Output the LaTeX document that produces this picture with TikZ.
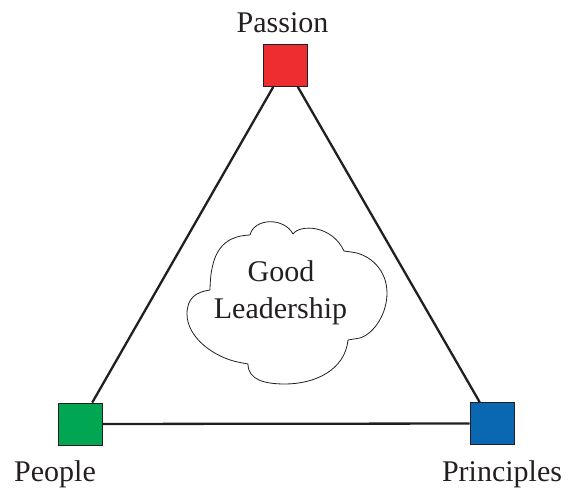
\documentclass[tikz,border=0pt]{standalone}
\usepackage{fontspec}
\setmainfont{Liberation Serif}
\definecolor{pred}{RGB}{237,45,47}
\definecolor{pgreen}{RGB}{0,166,81}
\definecolor{pblue}{RGB}{10,103,178}
\definecolor{ink}{RGB}{35,31,32}
\begin{document}
\begin{tikzpicture}[x=1pt,y=1pt,
  sq/.style={draw=ink,line width=0.8pt,minimum width=44pt,minimum height=42pt,inner sep=0pt},
  edge/.style={line width=2.3pt,ink},
  lbl/.style={font=\fontsize{30}{36}\selectfont,anchor=base,inner sep=0pt,text=ink},
  cloudline/.style={line width=0.8pt,ink,line join=round}]
\useasboundingbox (0,0) rectangle (567,498);
\node[sq,fill=pred] (passion) at (285.5,432.5) {};
\node[sq,fill=pgreen] (people) at (80,74) {};
\node[sq,fill=pblue] (principles) at (492,74.5) {};
\draw[edge] (passion) -- (people);
\draw[edge] (passion) -- (principles);
\draw[edge] (people) -- (principles);
\node[lbl] (passionlbl) at (282.5,465) {Passion};
\node[lbl] (peoplelbl) at (55,16.3) {People};
\node[lbl] (principleslbl) at (502,16.3) {Principles};
\draw[cloudline]
  (250,263) .. controls (254,280) and (284,281) .. (293,264)
  .. controls (300,274) and (332,273) .. (344,247)
  -- (351,246) .. controls (370,244) and (387,228) .. (387,205)
  .. controls (387,185) and (375,165) .. (360,160)
  -- (348,158) .. controls (345,128) and (315,114) .. (285,114)
  .. controls (265,114) and (248,118) .. (248,134)
  -- (240,135.5) .. controls (215,140) and (187,160) .. (187,184)
  .. controls (187,200) and (196,206) .. (210,208)
  .. controls (210.5,245) and (222,262) .. (250,263) -- cycle;
\node[lbl] (good) at (281,216) {Good};
\node[lbl] (leadership) at (280.5,179) {Leadership};
\end{tikzpicture}
\end{document}
